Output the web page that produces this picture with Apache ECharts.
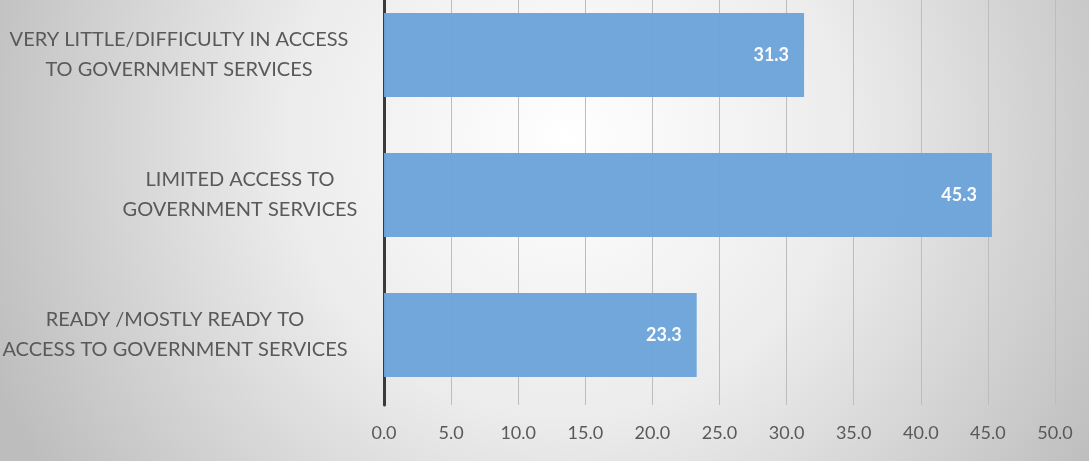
<!DOCTYPE html>
<html>
<head>
<meta charset="utf-8">
<script src="https://cdn.jsdelivr.net/npm/echarts@6/dist/echarts.min.js"></script>
<style>
  html, body { margin: 0; padding: 0; }
  #chart { width: 1089px; height: 461px; }
</style>
</head>
<body>
<div id="chart"></div>
<script>
// Survey categories, listed top to bottom
const categories = [
  ['VERY LITTLE/DIFFICULTY IN ACCESS', 'TO GOVERNMENT SERVICES'],
  ['LIMITED ACCESS TO', 'GOVERNMENT SERVICES'],
  ['READY /MOSTLY READY TO', 'ACCESS TO GOVERNMENT SERVICES']
];
// Share of respondents (%)
const values = [31.3, 45.3, 23.3];
// Width of the centred text block for each category label
const labelBlockWidths = [362, 240, 370];

const FONT = 'Lato, "Open Sans", sans-serif';

const chart = echarts.init(document.getElementById('chart'));

const rich = {};
labelBlockWidths.forEach((w, i) => {
  rich['b' + i] = { width: w, align: 'center', lineHeight: 30, fontSize: 20, fontFamily: FONT, color: '#595959' };
});

chart.setOption({
  backgroundColor: {
    type: 'radial', x: 0.52, y: 0.3, r: 1.35,
    colorStops: [
      { offset: 0, color: '#ffffff' },
      { offset: 0.45, color: '#ececec' },
      { offset: 1, color: '#bdbdbd' }
    ]
  },
  animation: false,
  grid: { left: 384, right: 34, top: -15, bottom: 56, containLabel: false, outerBoundsMode: 'none' },
  xAxis: {
    type: 'value',
    min: 0, max: 50, interval: 5,
    axisLine: { show: false },
    axisTick: { show: false },
    splitLine: { show: true, lineStyle: { color: '#bdbdbd', width: 1 } },
    axisLabel: {
      formatter: v => v.toFixed(1),
      color: '#595959', fontSize: 18, fontFamily: FONT, margin: 19
    }
  },
  yAxis: {
    type: 'category',
    inverse: true,
    data: categories.map((c, i) => ({ value: String(i) })),
    axisLine: { show: true, lineStyle: { color: '#3a3a3a', width: 3 } },
    axisTick: { show: false },
    axisLabel: {
      margin: 24,
      formatter: (v) => {
        const i = Number(v);
        return categories[i].map(line => '{b' + i + '|' + line + '}').join('\n');
      },
      rich: rich
    }
  },
  series: [{
    type: 'bar',
    data: values,
    barCategoryGap: '40%',
    itemStyle: { color: '#6ca4da', opacity: 0.97 },
    label: {
      show: true,
      position: 'insideRight',
      distance: 15,
      formatter: p => p.value.toFixed(1),
      color: '#ffffff',
      fontWeight: 'bold',
      fontSize: 18,
      fontFamily: FONT
    }
  }]
});
</script>
</body>
</html>
